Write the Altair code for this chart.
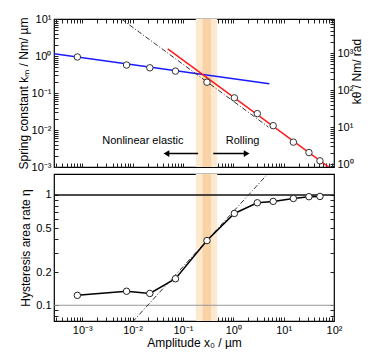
import altair as alt
import pandas as pd

# ---------------- data ----------------
amplitude = [0.0008, 0.0076, 0.022, 0.071, 0.30, 1.05, 3.0, 6.2, 15.6, 31.8, 52.6]
spring_k = [0.94, 0.57, 0.48, 0.39, 0.196, 0.074, 0.0277, 0.0131, 0.0047, 0.00246, 0.00147]
area_rate = [0.123, 0.134, 0.128, 0.174, 0.386, 0.68, 0.85, 0.875, 0.93, 0.965, 0.97]

blue_x = [0.000275, 5.2]
blue_k = [1.155, 0.177]
red_x = [0.05, 100]
red_k = [1.56, 0.00078]
dash_top_x = [0.006, 5.0]
dash_top_k = [10.0, 0.012]
dash_bot_x = [0.01, 4.8]
dash_bot_eta = [0.0707, 1.549]
band_outer = [0.18, 0.48]
band_inner = [0.245, 0.36]
eta_upper = [1.0]
eta_lower = [0.1]

x_major = [0.001, 0.01, 0.1, 1, 10, 100]
x_labels = ["10⁻³", "10⁻²", "10⁻¹", "10⁰", "10¹", "10²"]
k_major = [0.001, 0.01, 0.1, 1, 10]
k_labels = ["10⁻³", "10⁻²", "10⁻¹", "10⁰", "10¹"]
kt_major = [1, 10, 100, 1000]
kt_labels = ["10⁰", "10¹", "10²", "10³"]
eta_major = [0.1, 0.2, 0.5, 1]
eta_labels = ["0.1", "0.2", "0.5", "1"]

X_DOMAIN = [0.000275, 100]
K_DOMAIN = [0.001, 10]
KT_DOMAIN = [0.83, 8300]
ETA_DOMAIN = [0.072, 1.55]

FONT = "Liberation Sans"
W, H_TOP, H_BOT = 280, 148, 147
TICK = 4


def minors(lo, hi):
    out = []
    for d in range(-5, 5):
        for m in range(1, 10):
            v = float(f"{m * 10.0 ** d:.6g}")
            if lo * 0.999 <= v <= hi * 1.001:
                out.append(v)
    return out


def label_expr(vals, labels):
    parts = " : ".join(f"datum.value == {v!r} ? '{l}'" for v, l in zip(vals, labels))
    return parts + " : ''"


def make_axis(domain, vals, labels, orient, show_labels=True, title=None, **kw):
    args = dict(
        values=minors(domain[0], domain[1]),
        orient=orient,
        tickSize=TICK,
        offset=-TICK,
        domain=False,
        grid=False,
        labels=show_labels,
        labelOverlap=False,
        labelFlush=False,
        labelBound=False,
        labelExpr=label_expr(vals, labels),
        labelFontSize=11,
        labelFont=FONT,
        labelColor="black",
        tickColor="#222",
        title=title,
        titleFont=FONT,
        titleFontSize=12,
        titleFontWeight="normal",
        titleColor="black",
    )
    args.update(kw)
    return alt.Axis(**args)


xs = alt.Scale(type="log", domain=X_DOMAIN)
ks = alt.Scale(type="log", domain=K_DOMAIN)
kts = alt.Scale(type="log", domain=KT_DOMAIN)
es = alt.Scale(type="log", domain=ETA_DOMAIN)

ax_top_x = make_axis(X_DOMAIN, x_major, x_labels, "bottom", show_labels=False)
ax_top_x2 = make_axis(X_DOMAIN, x_major, x_labels, "top", show_labels=False)
ax_k = make_axis(K_DOMAIN, k_major, k_labels, "left",
                 title="Spring constant  kₘ / Nm/ µm", labelPadding=3, titlePadding=1)
ax_kt = make_axis(KT_DOMAIN, kt_major, kt_labels, "right",
                  title="kθ / Nm/ rad", labelPadding=3, titlePadding=10, titleAngle=270, titleY=52)
ax_bot_x = make_axis(X_DOMAIN, x_major, x_labels, "bottom",
                     title="Amplitude  x₀ / µm", labelPadding=3, titlePadding=2)
ax_eta = make_axis(ETA_DOMAIN, eta_major, eta_labels, "left",
                   title="Hysteresis area rate  η", labelPadding=3, titlePadding=3)
ax_eta2 = make_axis(ETA_DOMAIN, eta_major, eta_labels, "right", show_labels=False)


def X(field, axis):
    return alt.X(field, type="quantitative", scale=xs, axis=axis)


pts = pd.DataFrame({"x": amplitude, "k": spring_k, "eta": area_rate})
outer_df = pd.DataFrame({"x": [band_outer[0]], "x2": [band_outer[1]]})
inner_df = pd.DataFrame({"x": [band_inner[0]], "x2": [band_inner[1]]})
OUTER_C, INNER_C = "#fde8d0", "#f9d2a6"

# ---------------- top panel ----------------
t_band1 = alt.Chart(outer_df).mark_rect(color=OUTER_C).encode(x=X("x", ax_top_x), x2="x2")
t_band2 = alt.Chart(inner_df).mark_rect(color=INNER_C).encode(x=X("x", ax_top_x), x2="x2")
t_blue = alt.Chart(pd.DataFrame({"x": blue_x, "k": blue_k})).mark_line(
    color="#1a1aff", strokeWidth=1.5, clip=True).encode(
    x=X("x", ax_top_x), y=alt.Y("k:Q", scale=ks, axis=ax_k))
t_red = alt.Chart(pd.DataFrame({"x": red_x, "k": red_k})).mark_line(
    color="#ff1a1a", strokeWidth=1.5, clip=True).encode(
    x=X("x", ax_top_x), y=alt.Y("k:Q", scale=ks, axis=ax_k))
t_dash = alt.Chart(pd.DataFrame({"x": dash_top_x, "k": dash_top_k})).mark_line(
    color="#333", strokeWidth=1, strokeDash=[5, 2, 1, 2], clip=True).encode(
    x=X("x", ax_top_x), y=alt.Y("k:Q", scale=ks, axis=ax_k))
t_pts = alt.Chart(pts).mark_point(
    shape="circle", filled=True, fill="white", stroke="#333", strokeWidth=1, size=42, opacity=1).encode(
    x=X("x", ax_top_x), y=alt.Y("k:Q", scale=ks, axis=ax_k))

ann = pd.DataFrame({"x": [0.016, 1.53], "k": [0.0049, 0.0049], "t": ["Nonlinear elastic", "Rolling"]})
t_text = alt.Chart(ann).mark_text(font=FONT, fontSize=11, color="black").encode(
    x=X("x", ax_top_x), y=alt.Y("k:Q", scale=ks, axis=ax_k), text="t:N")
arrows = pd.DataFrame({"x": [0.2, 0.4], "x2": [0.047, 1.84], "k": [0.0023, 0.0023],
                       "shape": ["triangle-left", "triangle-right"]})
t_arrow = alt.Chart(arrows).mark_rule(color="black", strokeWidth=1.5).encode(
    x=X("x", ax_top_x), x2="x2", y=alt.Y("k:Q", scale=ks, axis=ax_k))
t_head = alt.Chart(arrows).mark_point(filled=True, color="black", size=45, opacity=1).encode(
    x=X("x2", ax_top_x), y=alt.Y("k:Q", scale=ks, axis=ax_k),
    shape=alt.Shape("shape:N", scale=None))

top_main = alt.layer(t_band1, t_band2, t_blue, t_red, t_dash, t_pts, t_text, t_arrow, t_head)
t_right = alt.Chart(pd.DataFrame({"x": [1.0, 1.0], "kt": KT_DOMAIN})).mark_point(opacity=0).encode(
    x=X("x", ax_top_x2), y=alt.Y("kt:Q", scale=kts, axis=ax_kt))
top = alt.layer(top_main, t_right).resolve_scale(y="independent").resolve_axis(
    x="independent", y="independent").properties(width=W, height=H_TOP)

# ---------------- bottom panel ----------------
b_band1 = alt.Chart(outer_df).mark_rect(color=OUTER_C).encode(x=X("x", ax_bot_x), x2="x2")
b_band2 = alt.Chart(inner_df).mark_rect(color=INNER_C).encode(x=X("x", ax_bot_x), x2="x2")
b_hl1 = alt.Chart(pd.DataFrame({"eta": eta_upper})).mark_rule(color="#111", strokeWidth=1.5).encode(
    y=alt.Y("eta:Q", scale=es, axis=ax_eta))
b_hl2 = alt.Chart(pd.DataFrame({"eta": eta_lower})).mark_rule(color="#999", strokeWidth=1).encode(
    y=alt.Y("eta:Q", scale=es, axis=ax_eta))
b_dash = alt.Chart(pd.DataFrame({"x": dash_bot_x, "eta": dash_bot_eta})).mark_line(
    color="#333", strokeWidth=1, strokeDash=[5, 2, 1, 2], clip=True).encode(
    x=X("x", ax_bot_x), y=alt.Y("eta:Q", scale=es, axis=ax_eta))
b_line = alt.Chart(pts).mark_line(color="black", strokeWidth=1.5).encode(
    x=X("x", ax_bot_x), y=alt.Y("eta:Q", scale=es, axis=ax_eta))
b_pts = alt.Chart(pts).mark_point(
    shape="circle", filled=True, fill="white", stroke="#222", strokeWidth=1, size=42, opacity=1).encode(
    x=X("x", ax_bot_x), y=alt.Y("eta:Q", scale=es, axis=ax_eta))
bot_main = alt.layer(b_band1, b_band2, b_hl1, b_hl2, b_dash, b_line, b_pts)
b_right = alt.Chart(pd.DataFrame({"eta": [1.0]})).mark_point(opacity=0).encode(
    y=alt.Y("eta:Q", scale=es, axis=ax_eta2))
bottom = alt.layer(bot_main, b_right).resolve_axis(y="independent").properties(width=W, height=H_BOT)

chart = alt.vconcat(top, bottom, spacing=0).properties(
    padding={"left": 8, "top": 4, "right": 0, "bottom": 0}
).configure_view(stroke="black", strokeWidth=1.2)

chart.save("out.html", embed_options={"renderer": "svg", "actions": False})
